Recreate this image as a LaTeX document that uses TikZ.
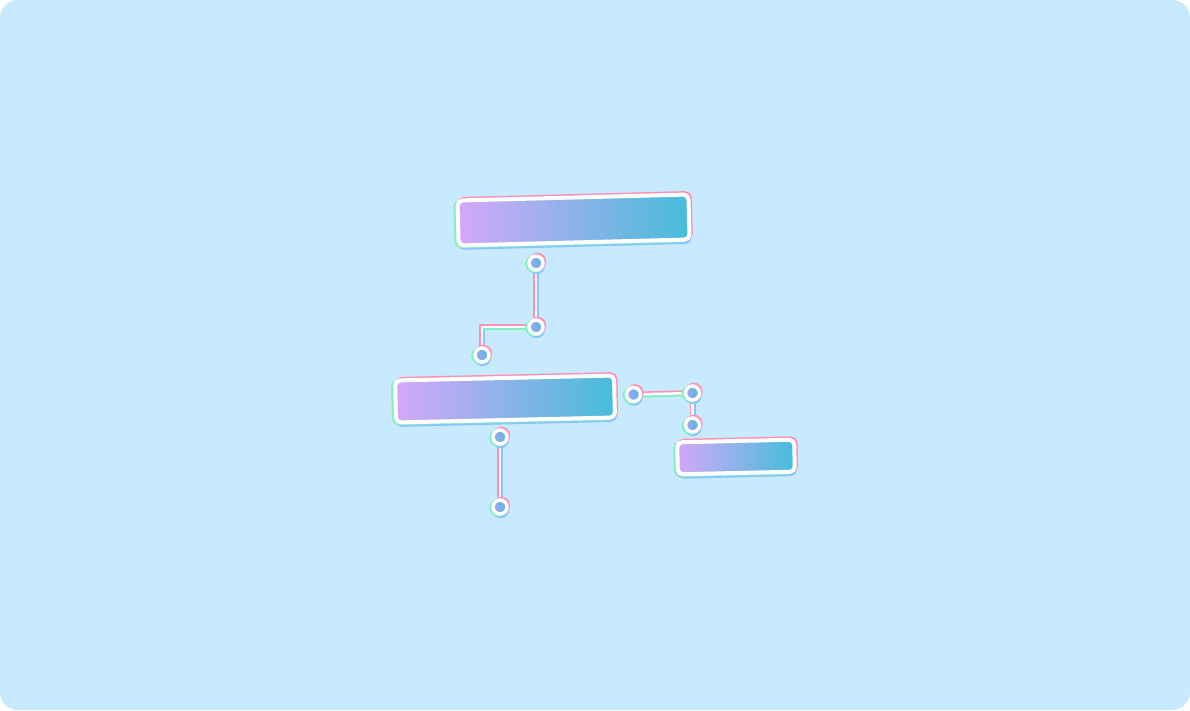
\documentclass[tikz,border=0pt]{standalone}
\usetikzlibrary{positioning}

\definecolor{bgblue}{HTML}{C8EAFE}
\definecolor{barl}{HTML}{D3A8F8}
\definecolor{barr}{HTML}{45BDDA}
\definecolor{dotl}{HTML}{A2A6EE}
\definecolor{dotr}{HTML}{52BAE0}
\definecolor{glpink}{HTML}{FF8FB3}
\definecolor{glgreen}{HTML}{80F0BE}
\definecolor{glblue}{HTML}{8EC2FF}

\pgfdeclarelayer{back}
\pgfdeclarelayer{wires}
\pgfsetlayers{back,wires,main}

\tikzset{
  glitch/.style={
    preaction={draw=glblue, line width=#1, transform canvas={shift={(0.4pt,-2.4pt)}}},
    preaction={draw=glgreen, line width=#1, transform canvas={shift={(-2pt,-0.8pt)}}},
    preaction={draw=glpink, line width=#1, transform canvas={shift={(1.4pt,1.5pt)}}}},
  bar/.style={rectangle, rounded corners=5pt, glitch=4pt, draw=white,
    line width=4pt, left color=barl, right color=barr},
  dot/.style={circle, minimum size=14pt, inner sep=0pt, glitch=3.5pt,
    draw=white, line width=3.5pt, shading angle=135, left color=dotl,
    right color=dotr},
  wire/.style={line width=2.5pt, draw=white,
    preaction={draw=glblue, line width=2.5pt, transform canvas={shift={(2pt,-0.5pt)}}},
    preaction={draw=glgreen, line width=2.5pt, transform canvas={shift={(0pt,-2pt)}}},
    preaction={draw=glpink, line width=2.5pt, transform canvas={shift={(-1.6pt,1.6pt)}}}}
}

\begin{document}
\begin{tikzpicture}[x=1pt, y=-1pt]
  \begin{pgfonlayer}{back}
    \fill[white] (0,0) rectangle (1190,710);
    \fill[bgblue, rounded corners=18pt] (0,0) rectangle (1190,710);
  \end{pgfonlayer}
  \useasboundingbox (0,0) rectangle (1190,710);

  % bars
  \node[bar, minimum width=231pt, minimum height=45pt, rotate=1.5] (top) at (573.5,220) {};
  \node[bar, minimum width=219pt, minimum height=42pt, rotate=1.3] (mid) at (505,399) {};
  \node[bar, minimum width=117pt, minimum height=32pt, rotate=1.3] (low) at (736,457) {};

  % connector dots
  \node[dot] (t1) at (536,263) {};
  \node[dot] (t2) at (536,327) {};
  \node[dot] (t3) at (482,355) {};
  \node[dot] (m1) at (500,437) {};
  \node[dot] (m2) at (500,507) {};
  \node[dot] (r1) at (633.5,394.5) {};
  \node[dot] (r2) at (692.5,393) {};
  \node[dot] (r3) at (692.5,425) {};

  \begin{pgfonlayer}{wires}
    \path[wire] (t1) -- (t2);
    \path[wire] (t2.center) -| (t3.center);
    \path[wire] (m1) -- (m2);
    \path[wire] (r1) -- (r2);
    \path[wire] (r2) -- (r3);
  \end{pgfonlayer}
\end{tikzpicture}
\end{document}
